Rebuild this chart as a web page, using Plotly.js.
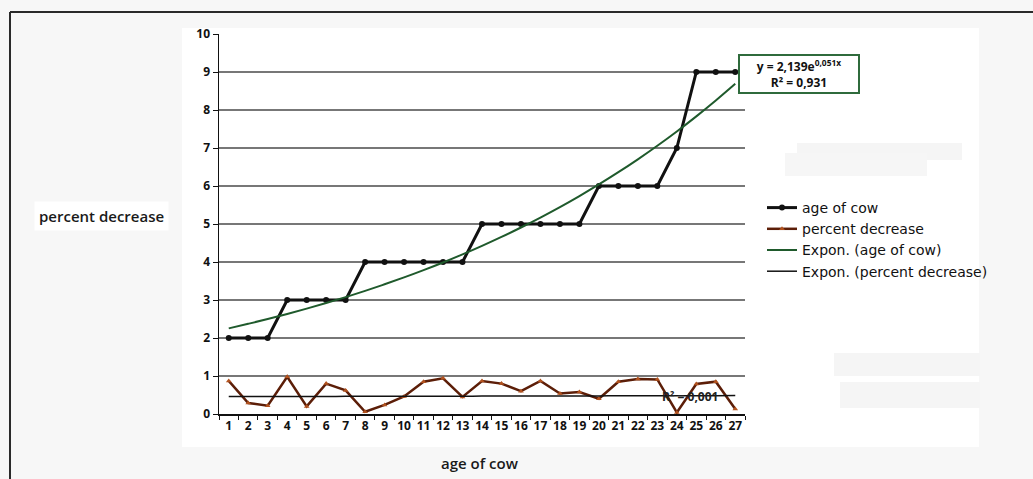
<!DOCTYPE html>
<html>
<head>
<meta charset="utf-8">
<script src="https://cdn.plot.ly/plotly-3.0.1.min.js"></script>
<style>html,body{margin:0;padding:0;background:#f7f7f7;}#chart{width:1033px;height:479px;}</style>
</head>
<body>
<div id="chart"></div>
<script>
// ---- data ----
var categories = ["1","2","3","4","5","6","7","8","9","10","11","12","13","14","15","16","17","18","19","20","21","22","23","24","25","26","27"];
var ageOfCow = [2,2,2,3,3,3,3,4,4,4,4,4,4,5,5,5,5,5,5,6,6,6,6,7,9,9,9];
var percentDecrease = [0.87,0.29,0.22,0.98,0.2,0.8,0.62,0.06,0.24,0.46,0.85,0.94,0.45,0.87,0.8,0.6,0.87,0.54,0.58,0.4,0.85,0.92,0.91,0.04,0.79,0.85,0.13];
var seriesNames = ["age of cow","percent decrease","Expon. (age of cow)","Expon. (percent decrease)"];
var yTicks = [0,1,2,3,4,5,6,7,8,9,10];
var equationText = "y = 2,139e<sup>0,051x</sup><br>R² = 0,931";
var r2Text = "R² = 0,001";

// exponential least-squares fit (as a spreadsheet trendline does)
function expFit(ys) {
  var n = ys.length, sx = 0, sy = 0, sxx = 0, sxy = 0;
  for (var i = 0; i < n; i++) {
    var x = i + 1, ly = Math.log(ys[i]);
    sx += x; sy += ly; sxx += x * x; sxy += x * ly;
  }
  var b = (n * sxy - sx * sy) / (n * sxx - sx * sx);
  var a = Math.exp((sy - b * sx) / n);
  return ys.map(function (_, i) { return a * Math.exp(b * (i + 1)); });
}
var ageTrend = expFit(ageOfCow);
var pdTrend = expFit(percentDecrease);

// plot-area geometry in pixels
var L = 219, R = 745, T = 34, B = 414;
function px(p) { return (p - L) / (R - L); }
function py(q) { return (B - q) / (B - T); }

var traces = [
  {x: categories, y: ageOfCow, name: seriesNames[0], type: 'scatter', mode: 'lines+markers',
   line: {color: '#111111', width: 3}, marker: {symbol: 'circle', size: 6, color: '#111111'}},
  {x: categories, y: percentDecrease, name: seriesNames[1], type: 'scatter', mode: 'lines+markers',
   line: {color: '#5c1e08', width: 2.5}, marker: {symbol: 'triangle-up', size: 5, color: '#b2521e'}},
  {x: categories, y: ageTrend, name: seriesNames[2], type: 'scatter', mode: 'lines',
   line: {color: '#1f5a2c', width: 2, shape: 'spline'}},
  {x: categories, y: pdTrend, name: seriesNames[3], type: 'scatter', mode: 'lines',
   line: {color: '#111111', width: 1.5, shape: 'spline'}}
];

var shapes = [
  // white chart panel
  {type: 'rect', xref: 'paper', yref: 'paper', x0: px(182), x1: px(979), y0: py(447), y1: py(28),
   fillcolor: '#ffffff', line: {width: 0}, layer: 'below'},
  // faint smudges
  {type: 'rect', xref: 'paper', yref: 'paper', x0: px(797), x1: px(962), y0: py(160), y1: py(143),
   fillcolor: '#f5f5f5', line: {width: 0}, layer: 'below'},
  {type: 'rect', xref: 'paper', yref: 'paper', x0: px(785), x1: px(927), y0: py(176), y1: py(153),
   fillcolor: '#f6f6f6', line: {width: 0}, layer: 'below'},
  {type: 'rect', xref: 'paper', yref: 'paper', x0: px(834), x1: px(980), y0: py(376), y1: py(353),
   fillcolor: '#f5f5f5', line: {width: 0}, layer: 'below'},
  {type: 'rect', xref: 'paper', yref: 'paper', x0: px(840), x1: px(980), y0: py(408), y1: py(382),
   fillcolor: '#f5f5f5', line: {width: 0}, layer: 'below'},
  // outer frame lines
  {type: 'line', xref: 'paper', yref: 'paper', x0: px(10), x1: px(1040), y0: py(12), y1: py(12),
   line: {color: '#2a2a2a', width: 2}},
  {type: 'line', xref: 'paper', yref: 'paper', x0: px(10), x1: px(10), y0: py(12), y1: py(490),
   line: {color: '#2a2a2a', width: 2}}
];

var annotations = [
  {xref: 'paper', yref: 'paper', x: px(101), y: py(216), xanchor: 'center', yanchor: 'middle',
   text: 'percent decrease', showarrow: false,
   font: {family: 'Open Sans, sans-serif', size: 15, color: '#1a1a1a', weight: 600}, bgcolor: '#ffffff', borderpad: 4},
  {xref: 'paper', yref: 'paper', x: px(480), y: py(463), xanchor: 'center', yanchor: 'middle',
   text: 'age of cow', showarrow: false,
   font: {family: 'Open Sans, sans-serif', size: 15, color: '#1a1a1a', weight: 600}},
  {xref: 'paper', yref: 'paper', x: px(799), y: py(74), xanchor: 'center', yanchor: 'middle',
   text: equationText, showarrow: false,
   font: {family: 'Open Sans, sans-serif', size: 12, color: '#111', weight: 'bold'},
   bgcolor: '#ffffff', bordercolor: '#2f6b3c', borderwidth: 2, borderpad: 1, width: 116},
  {xref: 'paper', yref: 'paper', x: px(690), y: py(396), xanchor: 'center', yanchor: 'middle',
   text: r2Text, showarrow: false,
   font: {family: 'Open Sans, sans-serif', size: 12, color: '#222', weight: 'bold'}}
];

var layout = {
  width: 1033, height: 479,
  paper_bgcolor: '#f7f7f7', plot_bgcolor: 'rgba(0,0,0,0)',
  margin: {l: L, r: 1033 - R, t: T, b: 479 - B, pad: 0},
  font: {family: 'Open Sans, sans-serif', color: '#111'},
  xaxis: {type: 'category', range: [-0.5, 26.5], tickson: 'boundaries', ticks: 'outside', ticklen: 4,
          tickcolor: '#111', showline: true, linecolor: '#111', linewidth: 1.5, showgrid: false,
          tickangle: 0, zeroline: false, tickfont: {size: 12, weight: 'bold', color: '#111'}, fixedrange: true},
  yaxis: {range: [0, 10], tickvals: yTicks, ticks: 'outside', ticklen: 5, tickcolor: '#111',
          showline: true, linecolor: '#111', linewidth: 1.5, showgrid: true, gridcolor: '#777777',
          gridwidth: 2, zeroline: false, tickfont: {size: 12, weight: 'bold', color: '#111'}, fixedrange: true},
  showlegend: true,
  legend: {x: px(762), y: py(192), xanchor: 'left', yanchor: 'top', bgcolor: 'rgba(0,0,0,0)',
           font: {family: 'DejaVu Sans, sans-serif', size: 14, color: '#111'}, itemwidth: 30, tracegroupgap: 0},
  shapes: shapes,
  annotations: annotations
};

Plotly.newPlot('chart', traces, layout, {staticPlot: true, displayModeBar: false});
</script>
</body>
</html>
